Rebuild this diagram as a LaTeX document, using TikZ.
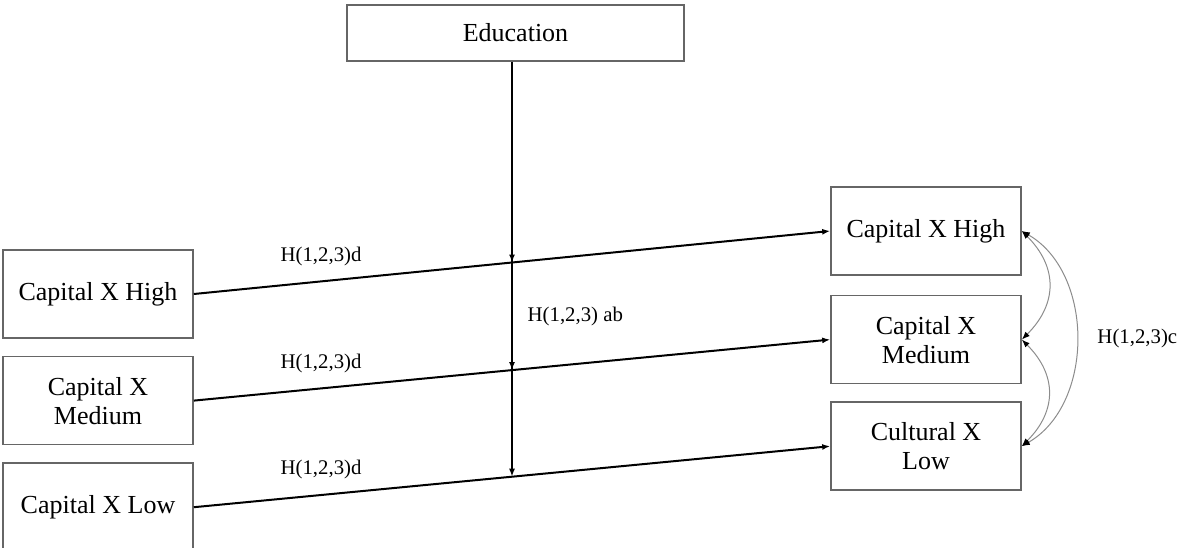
\documentclass[tikz,border=0pt]{standalone}
\usepackage{fontspec}
\setmainfont{Liberation Serif}
\usetikzlibrary{positioning}
\usetikzlibrary{arrows.meta}

\begin{document}
\begin{tikzpicture}[x=0.5pt, y=-0.5pt,
    box/.style={rectangle, draw=black!60, line width=0.8pt, minimum width=95pt, minimum height=44pt, align=center, font=\fontsize{13}{14.5}\selectfont},
    hyp/.style={black, font=\fontsize{10.4}{12}\selectfont},
    effect/.style={line width=1pt, -{Latex[length=4pt,width=3pt]}},
    link/.style={black!45, line width=0.5pt, {Latex[black,length=4pt,width=3pt]}-{Latex[black,length=4pt,width=3pt]}}]

    \useasboundingbox (0,0) rectangle (1182,547);

    % Nodes
    \node[box, minimum width=168.5pt, minimum height=28pt] (edu) at (515.5,33) {Education};
    \node[box] (lhigh) at (98,294) {Capital X High};
    \node[box, below=8.5pt of lhigh] (lmed) {Capital X\\Medium};
    \node[box, below=8.5pt of lmed] (llow) {Capital X Low};
    \node[box] (rhigh) at (926,231) {Capital X High};
    \node[box, below=9.5pt of rhigh] (rmed) {Capital X\\Medium};
    \node[box, below=8.5pt of rmed] (rlow) {Cultural X\\Low};

    % Paths
    \draw[effect] (lhigh.east) -- node[hyp, pos=0.2, above=4pt] {H(1,2,3)d} coordinate[midway] (m1) (rhigh.west);
    \draw[effect] (lmed.east) -- node[hyp, pos=0.2, above=4pt] {H(1,2,3)d} coordinate[midway] (m2) (rmed.west);
    \draw[effect] (llow.east) -- node[hyp, pos=0.2, above=4pt] {H(1,2,3)d} coordinate[midway] (m3) (rlow.west);

    % Moderation
    \draw[effect] (edu.south -| m1) -- (m1);
    \draw[effect] (edu.south -| m1) -- node[hyp, pos=0.825, right=4pt] {H(1,2,3) ab} (m2);
    \draw[effect] (edu.south -| m1) -- (m3);

    % Correlations
    \draw[link] (rhigh.east) to[out=-45, in=45, looseness=1.2] (rmed.east);
    \draw[link] (rmed.east) to[out=-45, in=45, looseness=1.2] (rlow.east);
    \draw[link] (rhigh.east) to[out=-30, in=30] node[hyp, right=7pt] {H(1,2,3)c} (rlow.east);

\end{tikzpicture}
\end{document}
